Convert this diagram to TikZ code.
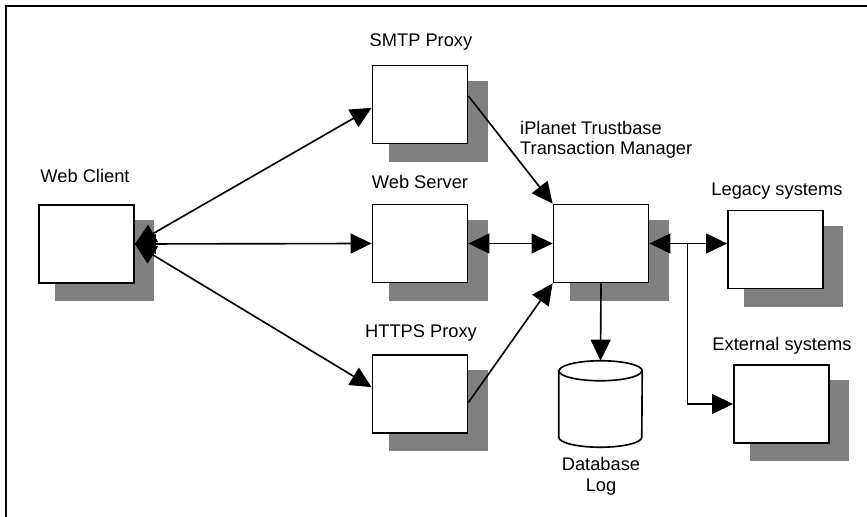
\documentclass[tikz,border=0pt]{standalone}
\usepackage{fontspec}
\setmainfont{Liberation Sans}
\usetikzlibrary{arrows.meta,shadows}

\definecolor{shadegray}{RGB}{128,128,128}

\begin{document}
\begin{tikzpicture}[x=0.03cm,y=-0.03cm,
  font=\fontsize{15.6}{17.9}\selectfont,
  box/.style={draw,line width=1.5pt,fill=white,minimum width=2.85cm,
    minimum height=2.34cm,inner sep=0pt,
    drop shadow={shadow xshift=0.525cm,shadow yshift=-0.48cm,
      shadow scale=1.04,fill=shadegray,opacity=1}},
  lbl/.style={inner sep=0pt,anchor=base},
  dbcap/.style={x radius=1.245cm,y radius=0.3cm},
  link/.style={line width=1.4pt,-{Triangle[length=18pt,width=17pt]}},
  dlink/.style={line width=1.4pt,
    {Triangle[length=18pt,width=17pt]}-{Triangle[length=18pt,width=17pt]}}]

\useasboundingbox (0,0) rectangle (867,517);

% Frame
\draw[line width=1.7pt] (867,6) -- (6,6) -- (6,517);

% Boxes
\node[box] (client) at (86.5,244) {};
\node[box] (smtp) at (420,104.5) {};
\node[box] (web) at (420,243.5) {};
\node[box] (https) at (420,394) {};
\node[box] (tb) at (601,243.5) {};
\node[box] (legacy) at (775.5,249.5) {};
\node[box] (ext) at (781.5,404) {};

% Database
\node[minimum width=2.49cm,minimum height=2.58cm,inner sep=0pt]
  (db) at (600.5,404) {};
\draw[line width=1.4pt,fill=white] ([yshift=-0.3cm]db.north west)
  -- ([yshift=0.3cm]db.south west) arc[start angle=180,end angle=360,dbcap]
  -- ([yshift=-0.3cm]db.north east) arc[start angle=0,end angle=180,dbcap]
  -- cycle;
\draw[line width=1.4pt] ([yshift=-0.3cm]db.north west)
  arc[start angle=180,end angle=360,dbcap];

% Labels
\node[lbl] (clientlbl) at (85,183) {Web Client};
\node[lbl] (smtplbl) at (421,47) {SMTP Proxy};
\node[lbl] (weblbl) at (420,189) {Web Server};
\node[lbl] (httpslbl) at (421,338) {HTTPS Proxy};
\node[lbl,anchor=base west,align=left] (tblbl) at (520,155)
    {iPlanet Trustbase\\Transaction Manager};
\node[lbl] (legacylbl) at (777,196) {Legacy systems};
\node[lbl] (extlbl) at (782,351) {External systems};
\node[lbl,align=center] (dblbl) at (601,491) {Database\\Log};

% Connectors
\draw[dlink] (client.east) -- (smtp.184);
\draw[dlink] (client.east) -- (web.west);
\draw[dlink] (client.east) -- (https.172);
\draw[dlink] (web.east) -- (tb.west);
\draw[link] (smtp.10) -- (tb.north west);
\draw[link] (https.-10) -- (tb.south west);
\draw[link] (tb.south) -- (db.north);
\draw[dlink] (tb.east) -- (tb.east -| legacy.west);
\path (tb.east) -- (tb.east -| legacy.west) coordinate[pos=0.49] (fork);
\draw[link] (fork) |- (ext.west);

\end{tikzpicture}
\end{document}
